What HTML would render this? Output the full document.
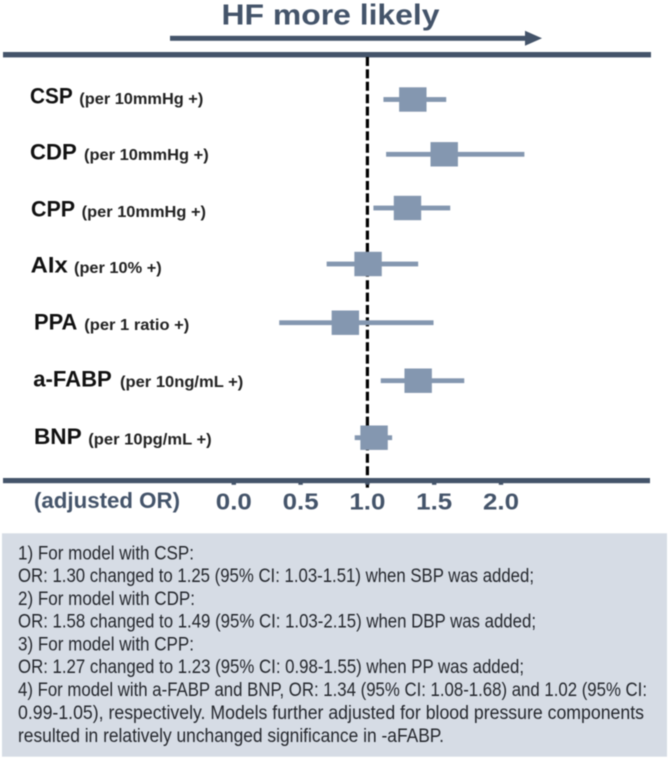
<!DOCTYPE html>
<html lang="en">
<head>
<meta charset="utf-8">
<title>Forest plot: HF more likely</title>
<style>
html,body{margin:0;padding:0;background:#fff;}
body{width:668px;height:759px;overflow:hidden;}
svg{display:block;filter:blur(0.45px);}
text{font-family:"Liberation Sans",sans-serif;}
.main{font-weight:700;font-size:22.5px;fill:#111111;}
.sub{font-weight:700;font-size:15.5px;fill:#222222;}
.note{font-size:19px;fill:#24272d;}
.tick-label{font-weight:700;font-size:23.5px;fill:#44546a;}
</style>
</head>
<body>
<svg id="chart" xmlns="http://www.w3.org/2000/svg" width="668" height="759" viewBox="0 0 668 759">
  <rect x="0" y="0" width="668" height="759" fill="#ffffff"/>

  <text x="221.5" y="24.5" font-size="29" font-weight="700" fill="#44546a" textLength="218" lengthAdjust="spacingAndGlyphs">HF more likely</text>
  <rect x="170" y="35.8" width="357" height="5" fill="#44546a"/>
  <polygon points="525,30.7 542,38.3 525,45.7" fill="#44546a"/>

  <rect x="3" y="52" width="648" height="5.4" fill="#44546a"/>
  <line id="refline" y1="57" y2="488.7" stroke="#000000" stroke-width="3.2" stroke-dasharray="9 3.4"/>
  <rect x="3" y="478" width="647" height="5.2" fill="#44546a"/>

  <g id="ticks"></g>
  <g id="tick-labels"></g>
  <text x="34" y="508" font-size="22.5" font-weight="700" fill="#44546a" textLength="146" lengthAdjust="spacingAndGlyphs">(adjusted OR)</text>

  <g>
    <text class="main" x="30" y="103.3" textLength="42.7" lengthAdjust="spacingAndGlyphs">CSP</text>
    <text class="sub" x="79.3" y="104" textLength="124" lengthAdjust="spacingAndGlyphs">(per 10mmHg +)</text>
    <text class="main" x="30" y="159.3" textLength="46.7" lengthAdjust="spacingAndGlyphs">CDP</text>
    <text class="sub" x="84" y="160" textLength="124.7" lengthAdjust="spacingAndGlyphs">(per 10mmHg +)</text>
    <text class="main" x="31" y="216.7" textLength="44" lengthAdjust="spacingAndGlyphs">CPP</text>
    <text class="sub" x="81.7" y="217" textLength="124.3" lengthAdjust="spacingAndGlyphs">(per 10mmHg +)</text>
    <text class="main" x="30.7" y="272.7" textLength="37" lengthAdjust="spacingAndGlyphs">AIx</text>
    <text class="sub" x="74" y="273" textLength="87.7" lengthAdjust="spacingAndGlyphs">(per 10% +)</text>
    <text class="main" x="34" y="329.3" textLength="43.3" lengthAdjust="spacingAndGlyphs">PPA</text>
    <text class="sub" x="84.3" y="330" textLength="105" lengthAdjust="spacingAndGlyphs">(per 1 ratio +)</text>
    <text class="main" x="33.3" y="386.7" textLength="78.4" lengthAdjust="spacingAndGlyphs">a-FABP</text>
    <text class="sub" x="120" y="387" textLength="123.3" lengthAdjust="spacingAndGlyphs">(per 10ng/mL +)</text>
    <text class="main" x="34" y="444" textLength="47.7" lengthAdjust="spacingAndGlyphs">BNP</text>
    <text class="sub" x="88.3" y="444.5" textLength="123.4" lengthAdjust="spacingAndGlyphs">(per 10pg/mL +)</text>
  </g>

  <g class="row" transform="translate(0,99.5)"></g>
  <g class="row" transform="translate(0,154.3)"></g>
  <g class="row" transform="translate(0,208)"></g>
  <g class="row" transform="translate(0,264)"></g>
  <g class="row" transform="translate(0,322.7)"></g>
  <g class="row" transform="translate(0,380.7)"></g>
  <g class="row" transform="translate(0,437.7)"></g>

  <g>
    <rect x="2" y="533.3" width="665" height="223.4" fill="#d6dce5"/>
    <text class="note" x="18" y="559.3" textLength="176" lengthAdjust="spacingAndGlyphs">1) For model with CSP:</text>
    <text class="note" x="18" y="582" textLength="516" lengthAdjust="spacingAndGlyphs">OR: 1.30 changed to 1.25 (95% CI: 1.03-1.51) when SBP was added;</text>
    <text class="note" x="18" y="604.8" textLength="177" lengthAdjust="spacingAndGlyphs">2) For model with CDP:</text>
    <text class="note" x="18" y="627.6" textLength="518" lengthAdjust="spacingAndGlyphs">OR: 1.58 changed to 1.49 (95% CI: 1.03-2.15) when DBP was added;</text>
    <text class="note" x="18" y="650.4" textLength="176" lengthAdjust="spacingAndGlyphs">3) For model with CPP:</text>
    <text class="note" x="18" y="673.2" textLength="506" lengthAdjust="spacingAndGlyphs">OR: 1.27 changed to 1.23 (95% CI: 0.98-1.55) when PP was added;</text>
    <text class="note" x="18" y="696" textLength="629" lengthAdjust="spacingAndGlyphs">4) For model with a-FABP and BNP, OR: 1.34 (95% CI: 1.08-1.68) and 1.02 (95% CI:</text>
    <text class="note" x="18" y="719" textLength="626" lengthAdjust="spacingAndGlyphs">0.99-1.05), respectively. Models further adjusted for blood pressure components</text>
    <text class="note" x="18" y="742" textLength="426" lengthAdjust="spacingAndGlyphs">resulted in relatively unchanged significance in -aFABP.</text>
  </g>
</svg>
<script>
const categories = ["CSP", "CDP", "CPP", "AIx", "PPA", "a-FABP", "BNP"];
const oddsRatios = [1.34, 1.575, 1.30, 1.005, 0.835, 1.38, 1.05];
const lowerCI = [1.12, 1.14, 1.045, 0.695, 0.34, 1.10, 0.905];
const upperCI = [1.59, 2.175, 1.62, 1.38, 1.495, 1.725, 1.185];
const tickValues = [0, 0.5, 1, 1.5, 2];
const tickLabels = ["0.0", "0.5", "1.0", "1.5", "2.0"];

function xScale(v) {
  return 233.8 + 133.6 * v;
}
function make(tag, parent) {
  const el = document.createElementNS("http://www.w3.org/2000/svg", tag);
  parent.appendChild(el);
  return el;
}

const refline = document.getElementById("refline");
refline.setAttribute("x1", xScale(1));
refline.setAttribute("x2", xScale(1));

const tickGroup = document.getElementById("ticks");
const labelGroup = document.getElementById("tick-labels");
tickValues.forEach(function (v, i) {
  const t = make("rect", tickGroup);
  
  
  t.setAttribute("x", xScale(v) - 2.2);
  t.setAttribute("y", 482);
  t.setAttribute("width", 4.4);
  t.setAttribute("height", 2.8);
  t.setAttribute("fill", "#44546a");

  const l = make("text", labelGroup);
  
  
  l.setAttribute("class", "tick-label");
  l.setAttribute("x", xScale(v) - 18);
  l.setAttribute("y", 509.5);
  l.setAttribute("textLength", 36);
  l.setAttribute("lengthAdjust", "spacingAndGlyphs");
  l.textContent = tickLabels[i];
});

const rows = document.querySelectorAll(".row");
categories.forEach(function (name, i) {
  const row = rows[i];
  const ci = make("rect", row);
  
  
  ci.setAttribute("x", xScale(lowerCI[i]));
  ci.setAttribute("y", -2.4);
  ci.setAttribute("width", xScale(upperCI[i]) - xScale(lowerCI[i]));
  ci.setAttribute("height", 4.8);
  ci.setAttribute("fill", "#8497b0");

  const box = make("rect", row);
  
  
  box.setAttribute("x", xScale(oddsRatios[i]) - 13.7);
  box.setAttribute("y", -12.2);
  box.setAttribute("width", 27.4);
  box.setAttribute("height", 24.4);
  box.setAttribute("fill", "#8497b0");

  const tip = make("title", row);
  tip.textContent = name + " OR " + oddsRatios[i];
});
</script>
</body>
</html>
